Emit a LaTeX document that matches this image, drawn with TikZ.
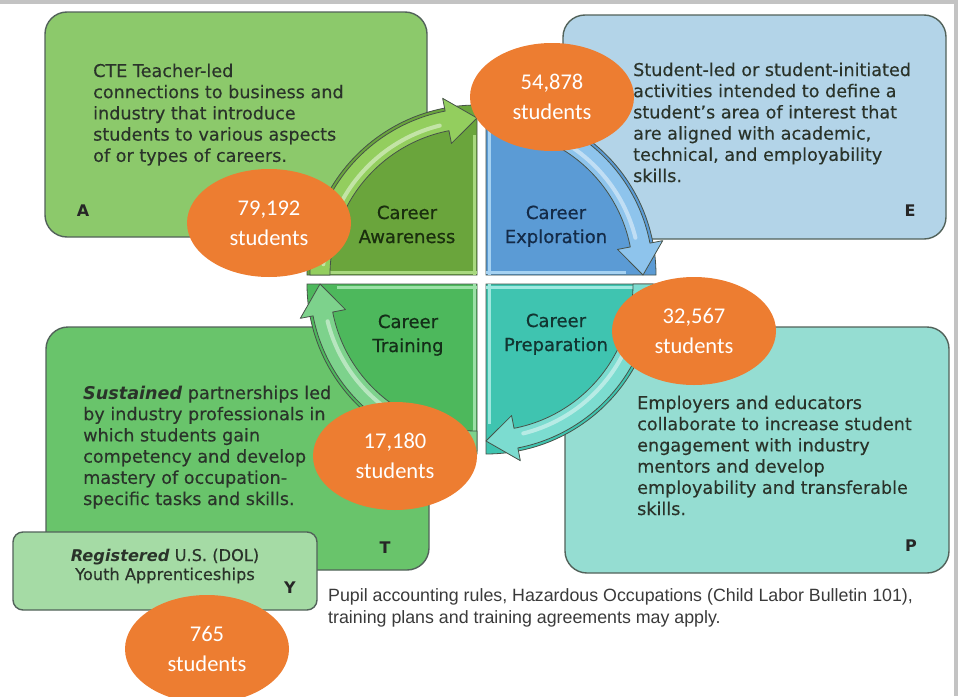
\documentclass[tikz,border=0pt]{standalone}
\usepackage{fontspec}
\setmainfont{DejaVu Sans}
\newfontfamily\bodyfont[FakeBold=0.35]{DejaVu Sans}
\newfontfamily\labelfont[FakeBold=0.7]{DejaVu Sans}
\newfontfamily\calfont{Carlito}
\newfontfamily\arialfont{Liberation Sans}
\usetikzlibrary{shapes.geometric}
\definecolor{framegray}{HTML}{C3C3C3}
\definecolor{boxline}{HTML}{52625A}
\definecolor{boxA}{HTML}{8CC96B}
\definecolor{boxE}{HTML}{B3D4E8}
\definecolor{boxT}{HTML}{69C46B}
\definecolor{boxP}{HTML}{95DDD2}
\definecolor{boxY}{HTML}{A5DBA5}
\definecolor{bodytext}{HTML}{2A332A}
\definecolor{countorange}{HTML}{ED7D31}
\definecolor{footgray}{HTML}{3A3A3A}
\definecolor{quadedge}{HTML}{465248}
\definecolor{awFill}{HTML}{6AA53C}
\definecolor{awArrow}{HTML}{93CE5E}
\definecolor{awStrip}{HTML}{A9D97F}
\definecolor{exFill}{HTML}{5B9BD5}
\definecolor{exArrow}{HTML}{8EC4EC}
\definecolor{exStrip}{HTML}{A6D2F2}
\definecolor{trFill}{HTML}{4DB85C}
\definecolor{trArrow}{HTML}{7DD28C}
\definecolor{trStrip}{HTML}{9BE0A6}
\definecolor{prFill}{HTML}{3FC4B0}
\definecolor{prArrow}{HTML}{7CDCD0}
\definecolor{prStrip}{HTML}{9FE8DF}
\definecolor{awText}{HTML}{1A2E0E}
\definecolor{exText}{HTML}{142B48}
\definecolor{trText}{HTML}{142E18}
\definecolor{prText}{HTML}{123531}
\newcommand\quadrant[6]{%
  \begin{scope}[shift={(#1,#2)}]
    \filldraw[fill=#4, draw=quadedge, line width=.8pt] (0,0) -- (#3:170) arc[start angle=#3, delta angle=90, radius=170] -- cycle;
    \draw[#6, line width=3pt] ({#3+90}:3) -- ++(#3:150);
    \draw[#6, line width=3pt] (#3:3) -- ++({#3+90}:140);
    \filldraw[fill=#5, draw=quadedge, line width=.8pt, line join=round]
      (#3:147) arc[start angle=#3, delta angle=79, radius=147]
      -- ({#3+79}:134) -- ({#3+90}:157) -- ({#3+79}:180) -- ({#3+79}:167)
      arc[start angle={#3+79}, delta angle=-79, radius=167] -- cycle;
    \draw[white, opacity=.45, line width=4pt, line cap=round] ({#3+4}:154) arc[start angle={#3+4}, delta angle=72, radius=154];
  \end{scope}
}
\tikzset{
  bigbox/.style={draw=boxline, line width=1.4pt, rounded corners=22pt, inner sep=0pt},
  body/.style={font=\bodyfont\fontsize{17.6}{21.2}\selectfont, text=bodytext, align=left, inner sep=0pt},
  letter/.style={font=\fontsize{16}{18}\selectfont\bfseries, text=black!85, inner sep=0pt},
  quadlabel/.style={font=\labelfont\fontsize{18}{24}\selectfont, align=center, inner sep=0pt},
  count/.style={ellipse, fill=countorange, minimum width=164pt, minimum height=108pt, inner sep=0pt, text=white, align=center, font=\calfont\fontsize{22.5}{30}\selectfont},
  footer/.style={font=\arialfont\fontsize{17.8}{22}\selectfont, text=footgray, align=left, inner sep=0pt},
}
\begin{document}
\begin{tikzpicture}[x=1pt,y=-1pt]
\useasboundingbox (0,0) rectangle (958,696);
\fill[white] (0,0) rectangle (958,696);
\fill[framegray] (0,0) rectangle (958,4);
\fill[framegray] (954,0) rectangle (958,696);

% description boxes
\node[bigbox, fill=boxA, minimum width=382pt, minimum height=225pt] (boxA) at (236,124.5) {};
\node[bigbox, fill=boxE, minimum width=383pt, minimum height=224pt] (boxE) at (754.5,127) {};
\node[bigbox, fill=boxT, minimum width=383pt, minimum height=243pt] (boxT) at (237.5,448.5) {};
\node[bigbox, fill=boxP, minimum width=384pt, minimum height=246pt] (boxP) at (757,450) {};

% (base anchor = baseline of the last line)
\node[body, anchor=base west] (textA) at (93,161.8) {CTE Teacher-led\\connections to business and\\industry that introduce\\students to various aspects\\of or types of careers.};
\node[body, anchor=base west] (textE) at (633,182) {Student-led or student-initiated\\activities intended to define a\\student’s area of interest that\\are aligned with academic,\\technical, and employability\\skills.};
\node[body, anchor=base west] (textT) at (83,505) {{\normalfont\bfseries\itshape Sustained} partnerships led\\by industry professionals in\\which students gain\\competency and develop\\mastery of occupation-\\specific tasks and skills.};
\node[body, anchor=base west] (textP) at (637,515) {Employers and educators\\collaborate to increase student\\engagement with industry\\mentors and develop\\employability and transferable\\skills.};

\node[letter] (letA) at (83,211) {A};
\node[letter] (letE) at (910,211) {E};
\node[letter] (letT) at (385,548) {T};
\node[letter] (letP) at (911,546) {P};

% apprenticeship box
\node[draw=boxline, line width=1.4pt, rounded corners=10pt, fill=boxY, minimum width=304pt, minimum height=78pt, inner sep=0pt] (boxY) at (165,571) {};
\node[font=\bodyfont\fontsize{16.2}{19}\selectfont, text=bodytext, align=center, inner sep=0pt, anchor=base] (textY) at (165,580) {{\normalfont\bfseries\itshape Registered} U.S. (DOL)\\Youth Apprenticeships};
\node[letter] (letY) at (290,588) {Y};

% cycle matrix
\quadrant{477}{275}{180}{awFill}{awArrow}{awStrip}
\quadrant{486}{275}{270}{exFill}{exArrow}{exStrip}
\quadrant{486}{284}{0}{prFill}{prArrow}{prStrip}
\quadrant{477}{284}{90}{trFill}{trArrow}{trStrip}

\node[quadlabel, text=awText, anchor=base] (qA) at (407,243) {Career\\Awareness};
\node[quadlabel, text=exText, anchor=base] (qE) at (556,243) {Career\\Exploration};
\node[quadlabel, text=trText, anchor=base] (qT) at (408,352) {Career\\Training};
\node[quadlabel, text=prText, anchor=base] (qP) at (556,351) {Career\\Preparation};

% counts
\node[count] (cA) at (269,223) {79,192\\students};
\node[count] (cE) at (552,97) {54,878\\students};
\node[count] (cP) at (694,331) {32,567\\students};
\node[count] (cT) at (395,456) {17,180\\students};
\node[count] (cY) at (207,649) {765\\students};

\node[footer, anchor=base west] (note) at (328,623) {Pupil accounting rules, Hazardous Occupations (Child Labor Bulletin 101),\\training plans and training agreements may apply.};
\end{tikzpicture}
\end{document}
